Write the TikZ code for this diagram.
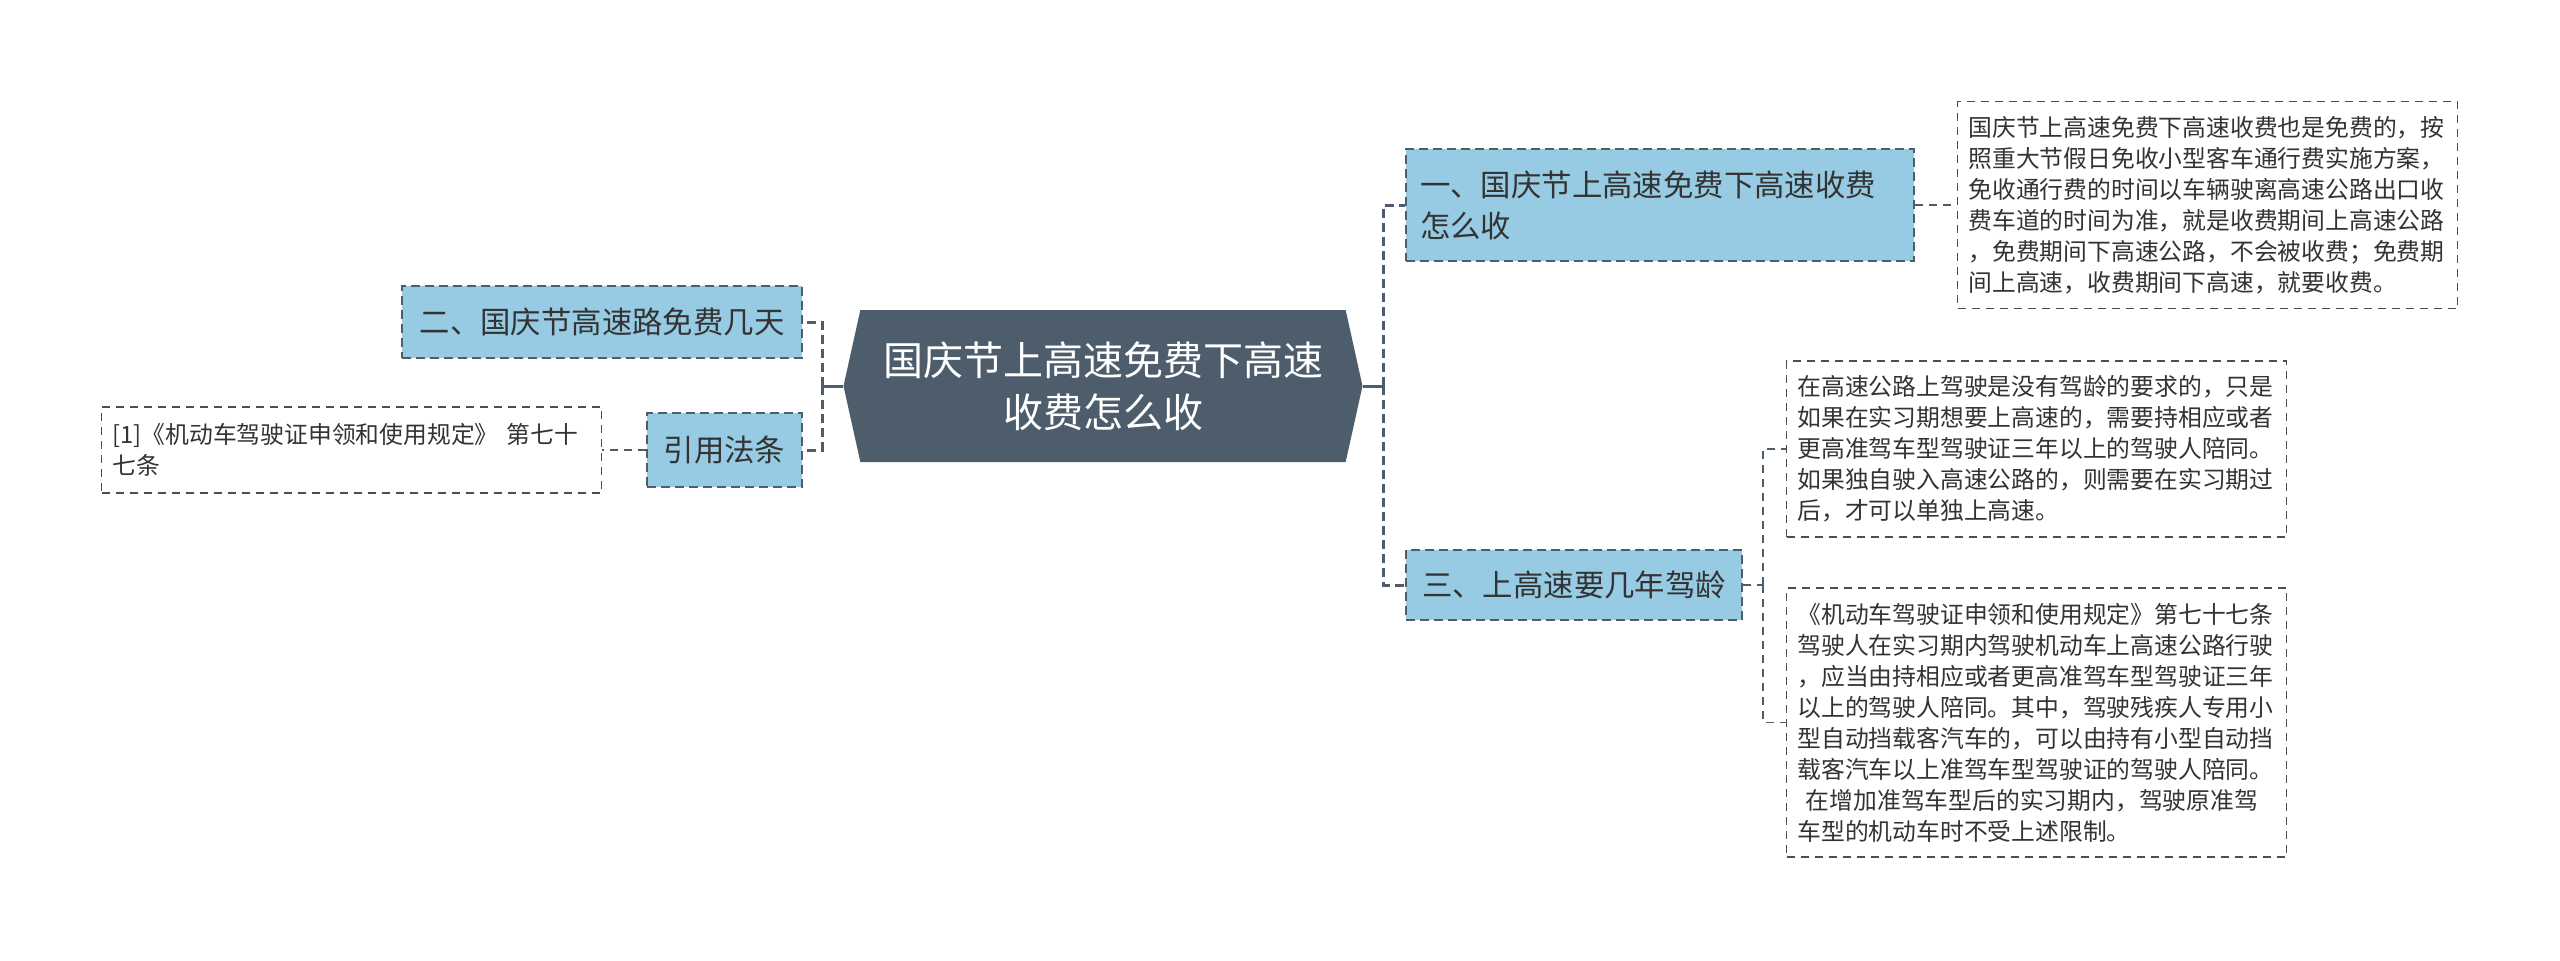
\documentclass[tikz,border=0pt]{standalone}
\usepackage{fontspec}
\setmainfont{Noto Sans CJK SC}
\usepackage{tikz}
\usetikzlibrary{calc,positioning,shapes.symbols}
\definecolor{RootSlate}{HTML}{4E5D6C}
\definecolor{TopicBlue}{HTML}{96CBE3}
\definecolor{LinkSlate}{HTML}{4E5D6C}
\definecolor{NoteGrey}{HTML}{4A4F55}
\definecolor{Ink}{HTML}{333333}

\begin{document}
\begin{tikzpicture}[x=0.5pt,y=-0.5pt,
      root/.style={signal,signal to=west and east,signal pointer angle=155,
                   fill=RootSlate,text=white,minimum width=259.5pt,
                   minimum height=76pt,align=center,inner sep=0pt,
                   font=\fontsize{20}{26}\selectfont},
      topic/.style={draw=LinkSlate,fill=TopicBlue,line width=1pt,
                    dash pattern=on 4.5pt off 2.5pt,text=Ink,
                    inner xsep=7pt,inner ysep=0pt,
                    font=\fontsize{15.2}{20.5}\selectfont},
      note/.style={draw=NoteGrey,fill=white,line width=0.8pt,
                   dash pattern=on 4pt off 3pt,text=Ink,align=left,
                   text width=239pt,inner xsep=5.5pt,inner ysep=0pt,
                   font=\fontsize{11.9}{15.5}\selectfont},
      rootlink/.style={draw=LinkSlate,line width=1.5pt},
      branch/.style={draw=LinkSlate,line width=1.5pt,
                     dash pattern=on 4.5pt off 2.5pt},
      leaflink/.style={draw=LinkSlate,line width=0.8pt,
                       dash pattern=on 4pt off 3pt}]
    \useasboundingbox (0,0) rectangle (2560,960);

    % Central topic and the four first-level topics around it.
    \node[root] (root) at (1103,386)
      {国庆节上高速免费下高速\\收费怎么收};
    \node[topic,text width=240pt,align=left,minimum height=56pt]
      (sec1) at (1660,205) {一、国庆节上高速免费下高速收费\\怎么收};
    \node[topic,minimum width=168pt,minimum height=35pt]
      (sec3) at (1574,585) {三、上高速要几年驾龄};
    \node[topic,minimum width=200pt,minimum height=36pt]
      (sec2) at (602,322) {二、国庆节高速路免费几天};
    \node[topic,minimum width=77.5pt,minimum height=37pt]
      (law) at (724.5,450) {引用法条};

    % Detail notes hanging off the topics.
    \node[note,minimum height=103.5pt] (note1) at (2207.5,205)
      {国庆节上高速免费下高速收费也是免费的，按\\
       照重大节假日免收小型客车通行费实施方案，\\
       免收通行费的时间以车辆驶离高速公路出口收\\
       费车道的时间为准，就是收费期间上高速公路\\
       ，免费期间下高速公路，不会被收费；免费期\\
       间上高速，收费期间下高速，就要收费。};
    \node[note,minimum height=88pt] (note3a) at (2036.5,449)
      {在高速公路上驾驶是没有驾龄的要求的，只是\\
       如果在实习期想要上高速的，需要持相应或者\\
       更高准驾车型驾驶证三年以上的驾驶人陪同。\\
       如果独自驶入高速公路的，则需要在实习期过\\
       后，才可以单独上高速。};
    \node[note,minimum height=134.5pt] (note3b) at (2036.5,722.5)
      {《机动车驾驶证申领和使用规定》第七十七条\\
       驾驶人在实习期内驾驶机动车上高速公路行驶\\
       ，应当由持相应或者更高准驾车型驾驶证三年\\
       以上的驾驶人陪同。其中，驾驶残疾人专用小\\
       型自动挡载客汽车的，可以由持有小型自动挡\\
       载客汽车以上准驾车型驾驶证的驾驶人陪同。\\
       \hspace*{0.35em}在增加准驾车型后的实习期内，驾驶原准驾\\
       车型的机动车时不受上述限制。};
    \node[note,minimum height=43pt] (lawref) at (351.5,450)
      {[1]《机动车驾驶证申领和使用规定》 第七十\\七条};

    % Elbow links: solid stub out of the root, dashed trunk to each topic.
    \coordinate (rjoint) at ($(root.east)+(21,0)$);
    \coordinate (ljoint) at ($(root.west)+(-21,0)$);
    \draw[rootlink] (root.east) -- (rjoint);
    \draw[rootlink] (root.west) -- (ljoint);
    \draw[branch] (rjoint) |- (sec1.west);
    \draw[branch] (rjoint) |- (sec3.west);
    \draw[branch] (ljoint) |- (sec2.east);
    \draw[branch] (ljoint) |- (law.east);

    \coordinate (sjoint) at ($(sec3.east)+(20,0)$);
    \draw[leaflink] (sec1.east) -- (note1.west);
    \draw[leaflink] (sec3.east) -- (sjoint);
    \draw[leaflink] (sjoint) |- (note3a.west);
    \draw[leaflink] (sjoint) |- (note3b.west);
    \draw[leaflink] (law.west) -- (lawref.east);
  \end{tikzpicture}
\end{document}
